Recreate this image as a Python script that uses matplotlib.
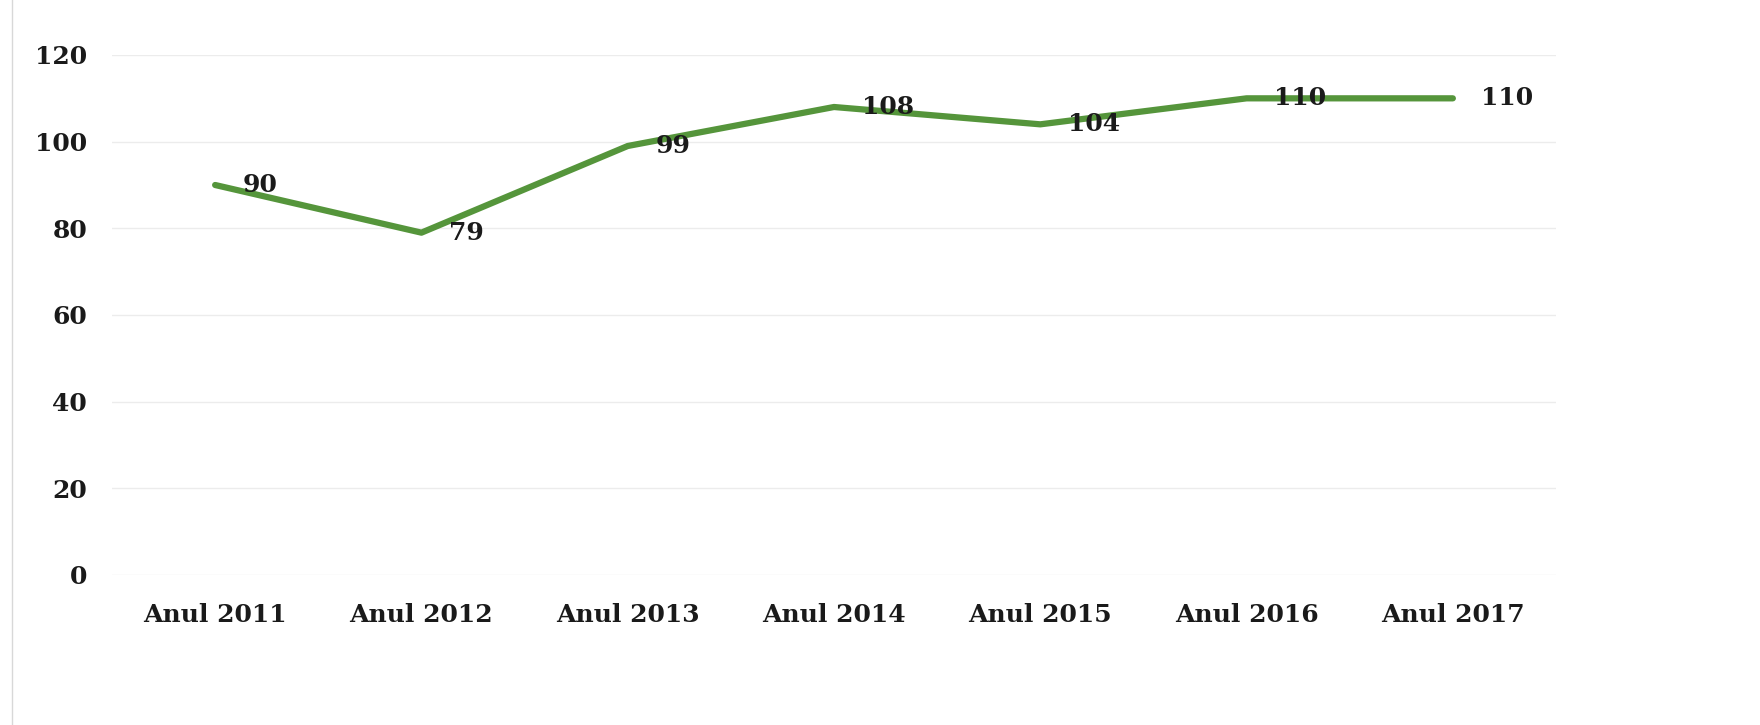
import matplotlib
matplotlib.use("Agg")
import matplotlib.pyplot as plt
from matplotlib.lines import Line2D

categories = ["Anul 2011", "Anul 2012", "Anul 2013", "Anul 2014", "Anul 2015", "Anul 2016", "Anul 2017"]
values = [90, 79, 99, 108, 104, 110, 110]
yticks = [0, 20, 40, 60, 80, 100, 120]

W, H = 1760, 725
fig = plt.figure(figsize=(W / 100, H / 100), dpi=100)
ax = fig.add_axes([112 / W, 1 - 575 / H, (1556 - 112) / W, (575 - 55) / H])

x = list(range(len(categories)))
ax.plot(x, values, color="#55953b", linewidth=4.5, solid_capstyle="round", solid_joinstyle="round", zorder=3)

font = dict(family="DejaVu Serif", weight="bold", color="#1a1a1a")
for xi, v in zip(x, values):
    ax.annotate(str(v), (xi, v), xytext=(20, 0), textcoords="offset points",
                ha="left", va="center", fontsize=18, zorder=4, **font)

ax.set_xlim(-0.5, len(categories) - 0.5)
ax.set_ylim(0, 120)
ax.set_yticks(yticks)
ax.set_xticks(x)
ax.set_xticklabels(categories, fontsize=18, **font)
ax.set_yticklabels([str(t) for t in yticks], fontsize=18, **font)
ax.tick_params(length=0, pad=18)
ax.tick_params(axis="x", pad=20)
ax.grid(axis="y", color="#ececec", linewidth=1)
ax.set_axisbelow(True)
for s in ax.spines.values():
    s.set_visible(False)

fig.add_artist(Line2D([12 / W, 12 / W], [0.0, 1.0], transform=fig.transFigure, color="#d8d8d8", linewidth=1))

fig.savefig("out.png", dpi=100, facecolor="white")
